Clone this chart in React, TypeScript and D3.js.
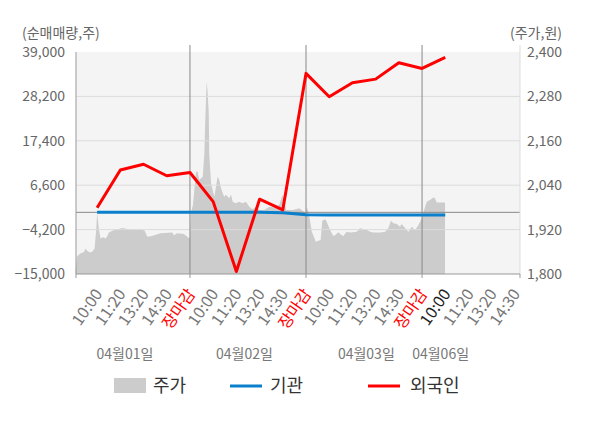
import * as d3 from 'd3';

// x positions are in "slot" units: one slot per time label
const timeLabels = [
  '10:00', '11:20', '13:20', '14:30', '장마감',
  '10:00', '11:20', '13:20', '14:30', '장마감',
  '10:00', '11:20', '13:20', '14:30', '장마감',
  '10:00', '11:20', '13:20', '14:30',
];
const dayLabels = ['04월01일', '04월02일', '04월03일', '04월06일'];
const dayLabelSlot = [1.2, 6.35, 11.6, 14.8];
const dayBreakSlot = [4, 9, 14];

const leftTicks = [-15000, -4200, 6600, 17400, 28200, 39000];
const rightTicks = [1800, 1920, 2040, 2160, 2280, 2400];

// 외국인 / 기관 net volume, one value per slot from 10:00 day 1
const foreign = [1100, 10300, 11700, 8900, 9700, 2600, -14400, 3200, 600, 33800, 28100, 31500, 32400, 36400, 35000, 37700];
const institution = [0, 0, 0, 0, 0, 0, 0, 0, -100, -600, -650, -650, -650, -650, -650, -650];

// 주가 [slot, price]
const price: [number, number][] = [
  [-0.93, 1811], [-0.87, 1846], [-0.83, 1849], [-0.71, 1856], [-0.57, 1859], [-0.5, 1869],
  [-0.43, 1863], [-0.31, 1858], [-0.21, 1860], [-0.11, 1869], [-0.04, 1919], [0.0, 1964],
  [0.03, 1949], [0.08, 1919], [0.15, 1896], [0.26, 1899], [0.37, 1896], [0.44, 1903],
  [0.51, 1912], [0.65, 1917], [1.08, 1924], [1.37, 1921], [1.88, 1921], [2.05, 1917],
  [2.16, 1901], [2.38, 1903], [2.45, 1905], [2.74, 1910], [3.24, 1912], [3.31, 1905],
  [3.45, 1910], [3.74, 1908], [3.88, 1901], [4.0, 1896],
  [4.04, 1965], [4.13, 1987], [4.26, 2076], [4.33, 2077], [4.4, 2054], [4.55, 2063],
  [4.62, 2126], [4.66, 2216], [4.72, 2320], [4.76, 2293], [4.81, 2234], [4.83, 2126],
  [4.91, 2045], [5.05, 2009], [5.12, 2036], [5.19, 2063], [5.26, 2054], [5.34, 2032],
  [5.41, 2018], [5.48, 2009], [5.55, 2014], [5.69, 2005], [5.77, 2014], [5.84, 1995],
  [5.98, 1991], [6.12, 1995], [6.27, 1991], [6.41, 1995], [6.56, 1982], [6.7, 1975],
  [6.84, 1982], [6.99, 1973], [7.2, 1973], [7.42, 1982], [7.63, 1980], [7.85, 1987],
  [7.99, 2014], [8.06, 2000], [8.14, 1973], [8.43, 1973], [8.71, 1978], [9.0, 1964],
  [9.03, 1982], [9.1, 1968], [9.17, 1946], [9.25, 1914], [9.34, 1901], [9.42, 1887],
  [9.53, 1890], [9.63, 1892], [9.7, 1944], [9.82, 1948], [9.89, 1941], [10.0, 1924],
  [10.11, 1910], [10.18, 1903], [10.25, 1905], [10.39, 1913], [10.54, 1905], [10.61, 1903],
  [10.75, 1914], [10.9, 1912], [11.19, 1914], [11.33, 1924], [11.47, 1921], [11.62, 1919],
  [11.76, 1914], [11.9, 1912], [12.19, 1912], [12.41, 1914], [12.55, 1924], [12.66, 1944],
  [12.77, 1937], [12.91, 1935], [13.05, 1928], [13.12, 1935], [13.22, 1928], [13.34, 1919],
  [13.41, 1914], [13.56, 1928], [13.7, 1919], [13.84, 1932], [13.99, 1951],
  [14.09, 1973], [14.2, 1995], [14.34, 2000], [14.49, 2007], [14.56, 2005], [14.63, 1993],
  [14.99, 1993],
];

const W = 600;
const H = 428;
const plot = { left: 76, right: 520, top: 52, bottom: 274 };
const font = '"Noto Sans CJK KR", "Noto Sans", sans-serif';

export default function App() {
  const x = d3.scaleLinear().domain([-0.91, 18.22]).range([plot.left, plot.right]);
  const yL = d3.scaleLinear().domain([-15000, 39000]).range([plot.bottom, plot.top]);
  const yR = d3.scaleLinear().domain([1800, 2400]).range([plot.bottom, plot.top]);

  const area = d3.area<[number, number]>()
    .x(d => x(d[0]))
    .y0(plot.bottom)
    .y1(d => yR(d[1]));

  const line = d3.line<number>()
    .x((_, i) => x(i))
    .y(d => yL(d));

  const ticksX = [plot.left, ...dayBreakSlot.map(s => x(s)), plot.right];

  return (
    <div style={{ position: 'absolute', left: 0, top: 0 }}>
      <svg width={W} height={H} style={{ fontFamily: font, display: 'block' }}>
        <rect x={plot.left} y={plot.top} width={plot.right - plot.left} height={plot.bottom - plot.top} fill="#f4f4f4" />
        <path d={area(price) ?? ''} fill="#cccccc" />

        {leftTicks.slice(1, -1).map(t => (
          <line key={t} x1={plot.left} x2={plot.right} y1={yL(t)} y2={yL(t)} stroke="#dcdcdc" strokeWidth={1} />
        ))}
        <line x1={plot.left} x2={plot.right} y1={yL(0)} y2={yL(0)} stroke="#888" strokeWidth={1} />

        {dayBreakSlot.map(s => (
          <line key={s} x1={x(s)} x2={x(s)} y1={45} y2={plot.bottom} stroke="#888" strokeWidth={1} />
        ))}
        <line x1={plot.left} x2={plot.left} y1={plot.top} y2={plot.bottom} stroke="#999" strokeWidth={1} />
        <line x1={plot.right} x2={plot.right} y1={45} y2={plot.bottom} stroke="#ddd" strokeWidth={1} />
        <line x1={plot.left} x2={plot.right} y1={plot.bottom} y2={plot.bottom} stroke="#999" strokeWidth={1} />
        {ticksX.map((tx, i) => (
          <line key={i} x1={tx} x2={tx} y1={plot.bottom} y2={plot.bottom + 4} stroke="#999" strokeWidth={1} />
        ))}

        <path d={line(institution) ?? ''} fill="none" stroke="#0a7fcc" strokeWidth={3} />
        <path d={line(foreign) ?? ''} fill="none" stroke="#ff0000" strokeWidth={3} strokeLinejoin="round" />

        {leftTicks.map(t => (
          <text key={t} x={65} y={yL(t)} dy="0.35em" textAnchor="end" fontSize={14} fill="#666">
            {d3.format(',')(t)}
          </text>
        ))}
        {rightTicks.map(t => (
          <text key={t} x={527} y={yR(t)} dy="0.35em" textAnchor="start" fontSize={14} fill="#666">
            {d3.format(',')(t)}
          </text>
        ))}
        <text x={22} y={38} fontSize={14} fill="#666">(순매매량,주)</text>
        <text x={562} y={38} fontSize={14} fill="#666" textAnchor="end">(주가,원)</text>

        {timeLabels.map((lab, i) => (
          <text
            key={i}
            transform={`translate(${x(i) + 6},${plot.bottom + 20}) rotate(-55)`}
            textAnchor="end"
            fontSize={16}
            fill={lab === '장마감' ? '#ff0000' : i === 15 ? '#222' : '#777'}
          >
            {lab}
          </text>
        ))}

        {dayLabels.map((lab, i) => (
          <text key={lab} x={x(dayLabelSlot[i])} y={359} textAnchor="middle" fontSize={14} fill="#777">
            {lab}
          </text>
        ))}

        <g fontSize={18} fill="#333">
          <rect x={114} y={378} width={32} height={15} fill="#cccccc" />
          <text x={153} y={392}>주가</text>
          <line x1={230} x2={262} y1={386} y2={386} stroke="#0a7fcc" strokeWidth={3} />
          <text x={270} y={392}>기관</text>
          <line x1={368} x2={400} y1={386} y2={386} stroke="#ff0000" strokeWidth={3} />
          <text x={410} y={392}>외국인</text>
        </g>
      </svg>
    </div>
  );
}
